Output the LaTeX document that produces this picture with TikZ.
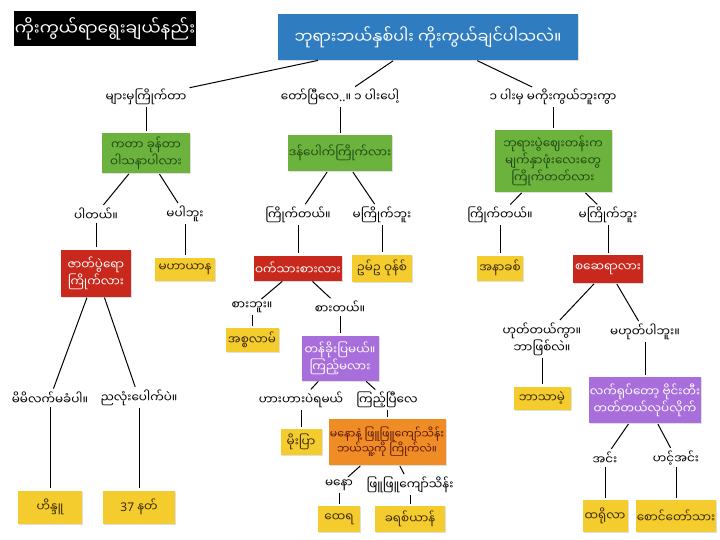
\documentclass[tikz,border=0pt]{standalone}
\usepackage{fontspec}
\usepackage{xcolor}
\usetikzlibrary{shadows}
\newfontfamily\mmfont[Script=Myanmar]{Noto Sans Myanmar UI}
\newfontfamily\latfont{Noto Sans}
\definecolor{topblue}{HTML}{2F7DC0}
\definecolor{leafgreen}{HTML}{6CB33E}
\definecolor{darkgreen}{HTML}{1F4A12}
\definecolor{boxred}{HTML}{C9291C}
\definecolor{boxyellow}{HTML}{F4CC2E}
\definecolor{boxpurple}{HTML}{A86EDC}
\definecolor{boxorange}{HTML}{F08C25}
\definecolor{inkbrown}{HTML}{3B2A05}
\definecolor{inkmaroon}{HTML}{5A1608}
\begin{document}
\begin{tikzpicture}[x=1pt,y=-1pt]
        \tikzstyle{every node}+=[font=\mmfont\fontsize{12}{15}\selectfont, align=center, inner sep=1pt]
        \tikzstyle{box}=[rectangle, drop shadow={opacity=0.25,shadow xshift=1pt,shadow yshift=-1pt}]
        \tikzstyle{bluebox}=[box, fill=topblue, text=white, font=\mmfont\fontsize{16}{19}\selectfont]
        \tikzstyle{greenbox}=[box, fill=leafgreen, text=darkgreen]
        \tikzstyle{redbox}=[box, fill=boxred, text=white]
        \tikzstyle{yellowbox}=[box, fill=boxyellow, text=inkbrown]
        \tikzstyle{purplebox}=[box, fill=boxpurple, text=white]
        \tikzstyle{orangebox}=[box, fill=boxorange, text=inkmaroon, font=\mmfont\fontsize{11}{15}\selectfont]
        \tikzstyle{link}=[black, line width=1pt, shorten <=1pt, shorten >=2pt]
        \fill [white] (0,0) rectangle (720,540);
        \useasboundingbox (0,0) rectangle (720,540);
        \draw (105,29) node [fill=black, text=white, minimum width=180pt, minimum height=35pt, font=\mmfont\fontsize{17}{20}\selectfont] (title) {ကိုးကွယ်ရာရွေးချယ်နည်း};
        \draw (428,37) node [bluebox, minimum width=300pt, minimum height=46pt] (top) {ဘုရားဘယ်နှစ်ပါး ကိုးကွယ်ချင်ပါသလဲ။};
        \draw (146,97) node (many) {များမှကြိုက်တာ};
        \draw (340,97) node (one) {တော်ပြီလေ{\latfont ..}။ ၁ ပါးပေါ့};
        \draw (553,97) node (more) {၁ ပါးမှ မကိုးကွယ်ဘူးကွာ};
        \draw (146,153) node [greenbox, minimum width=88pt, minimum height=40pt] (dance) {ကတာ ခုန်တာ\\ဝါသနာပါလား};
        \draw (340,153) node [greenbox, minimum width=103pt, minimum height=36pt] (danbauk) {ဒန်ပေါက်ကြိုက်လား};
        \draw (553,161) node [greenbox, minimum width=117pt, minimum height=62pt] (mask) {ဘုရားပွဲဈေးတန်းက\\မျက်နှာဖုံးလေးတွေ\\ကြိုက်တတ်လား};
        \draw (96,214) node (danceyes) {ပါတယ်။};
        \draw (185,214) node (danceno) {မပါဘူး};
        \draw (298,215) node (danyes) {ကြိုက်တယ်။};
        \draw (382,215) node (danno) {မကြိုက်ဘူး};
        \draw (500,215) node (maskyes) {ကြိုက်တယ်။};
        \draw (608,215) node (maskno) {မကြိုက်ဘူး};
        \draw (96,273) node [redbox, minimum width=70pt, minimum height=47pt] (zat) {ဇာတ်ပွဲရော\\ကြိုက်လား};
        \draw (185,269) node [yellowbox, minimum width=60pt, minimum height=23pt] (mahayana) {မဟာယာန};
        \draw (298,268) node [redbox, minimum width=85pt, minimum height=25pt] (pork) {ဝက်သားစားလား};
        \draw (382,268) node [yellowbox, minimum width=60pt, minimum height=27pt] (om) {ဥမ်ဥ ဝုန်စ်};
        \draw (500,268) node [yellowbox, minimum width=46pt, minimum height=25pt] (anakha) {အနာခစ်};
        \draw (608,269) node [redbox, minimum width=70pt, minimum height=28pt] (sase) {စဆေရာလား};
        \draw (50,398) node (zatno) {မိမိလက်မခံပါ။};
        \draw (139,398) node (zatyes) {ညလုံးပေါက်ပဲ။};
        \draw (50,507) node [yellowbox, minimum width=64pt, minimum height=33pt] (hindu) {ဟိန္ဒူ};
        \draw (139,507) node [yellowbox, minimum width=72pt, minimum height=33pt] (nat) {{\latfont 37} နတ်};
        \draw (252,307) node (porkno) {စားဘူး။};
        \draw (340,307) node (porkyes) {စားတယ်။};
        \draw (252,340) node [yellowbox, minimum width=53pt, minimum height=24pt] (islam) {အစ္စလာမ်};
        \draw (340,358) node [purplebox, minimum width=77pt, minimum height=45pt] (magic) {တန်ခိုးပြမယ်။\\ကြည့်မလား};
        \draw (301,400) node (haha) {ဟားဟားပဲရမယ်};
        \draw (387,400) node (watch) {ကြည့်ပြီလေ};
        \draw (301,442) node [yellowbox, minimum width=41pt, minimum height=26pt] (moepya) {မိုးပြာ};
        \draw (387,442) node [orangebox, minimum width=117pt, minimum height=46pt] (singer) {မနောနဲ့ ဖြူဖြူကျော်သိန်း\\ဘယ်သူ့ကို ကြိုက်လဲ။};
        \draw (339,485) node (mano) {မနော};
        \draw (410,485) node (phyuphyu) {ဖြူဖြူကျော်သိန်း};
        \draw (339,519) node [yellowbox, minimum width=42pt, minimum height=26pt] (theravada) {ထေရ};
        \draw (410,519) node [yellowbox, minimum width=70pt, minimum height=26pt] (christian) {ခရစ်ယာန်};
        \draw (542,339) node (sure) {ဟုတ်တယ်ကွာ။\\ဘာဖြစ်လဲ။};
        \draw (645,332) node (notsure) {မဟုတ်ပါဘူး။};
        \draw (542,398) node [yellowbox, minimum width=57pt, minimum height=23pt] (atheist) {ဘာသာမဲ့};
        \draw (645,400) node [purplebox, minimum width=105pt, minimum height=46pt] (guitar) {လက်ရုပ်တော့ ဗိုင်းတီး\\တတ်တယ်လုပ်လိုက်};
        \draw (605,458) node (yes) {အင်း};
        \draw (676,458) node (no) {ဟင့်အင်း};
        \draw (605,516) node [yellowbox, minimum width=45pt, minimum height=32pt] (troll) {ထရိုလာ};
        \draw (676,516) node [yellowbox, minimum width=78pt, minimum height=32pt] (saung) {စောင်တော်သား};
        \draw [link] (top) -- (many);
        \draw [link] (top) -- (one);
        \draw [link] (top) -- (more);
        \draw [link] (many) -- (dance);
        \draw [link] (one) -- (danbauk);
        \draw [link] (more) -- (mask);
        \draw [link] (dance) -- (danceyes);
        \draw [link] (dance) -- (danceno);
        \draw [link] (danbauk) -- (danyes);
        \draw [link] (danbauk) -- (danno);
        \draw [link] (mask) -- (maskyes);
        \draw [link] (mask) -- (maskno);
        \draw [link] (danceyes) -- (zat);
        \draw [link] (danceno) -- (mahayana);
        \draw [link] (danyes) -- (pork);
        \draw [link] (danno) -- (om);
        \draw [link] (maskyes) -- (anakha);
        \draw [link] (maskno) -- (sase);
        \draw [link] (zat) -- (zatno);
        \draw [link] (zat) -- (zatyes);
        \draw [link] (zatno) -- (hindu);
        \draw [link] (zatyes) -- (nat);
        \draw [link] (pork) -- (porkno);
        \draw [link] (pork) -- (porkyes);
        \draw [link] (porkno) -- (islam);
        \draw [link] (porkyes) -- (magic);
        \draw [link] (magic) -- (haha);
        \draw [link] (magic) -- (watch);
        \draw [link] (haha) -- (moepya);
        \draw [link] (watch) -- (singer);
        \draw [link] (singer) -- (mano);
        \draw [link] (singer) -- (phyuphyu);
        \draw [link] (mano) -- (theravada);
        \draw [link] (phyuphyu) -- (christian);
        \draw [link] (sase) -- (sure);
        \draw [link] (sase) -- (notsure);
        \draw [link] (sure) -- (atheist);
        \draw [link] (notsure) -- (guitar);
        \draw [link] (guitar) -- (yes);
        \draw [link] (guitar) -- (no);
        \draw [link] (yes) -- (troll);
        \draw [link] (no) -- (saung);
        \end{tikzpicture}
\end{document}
